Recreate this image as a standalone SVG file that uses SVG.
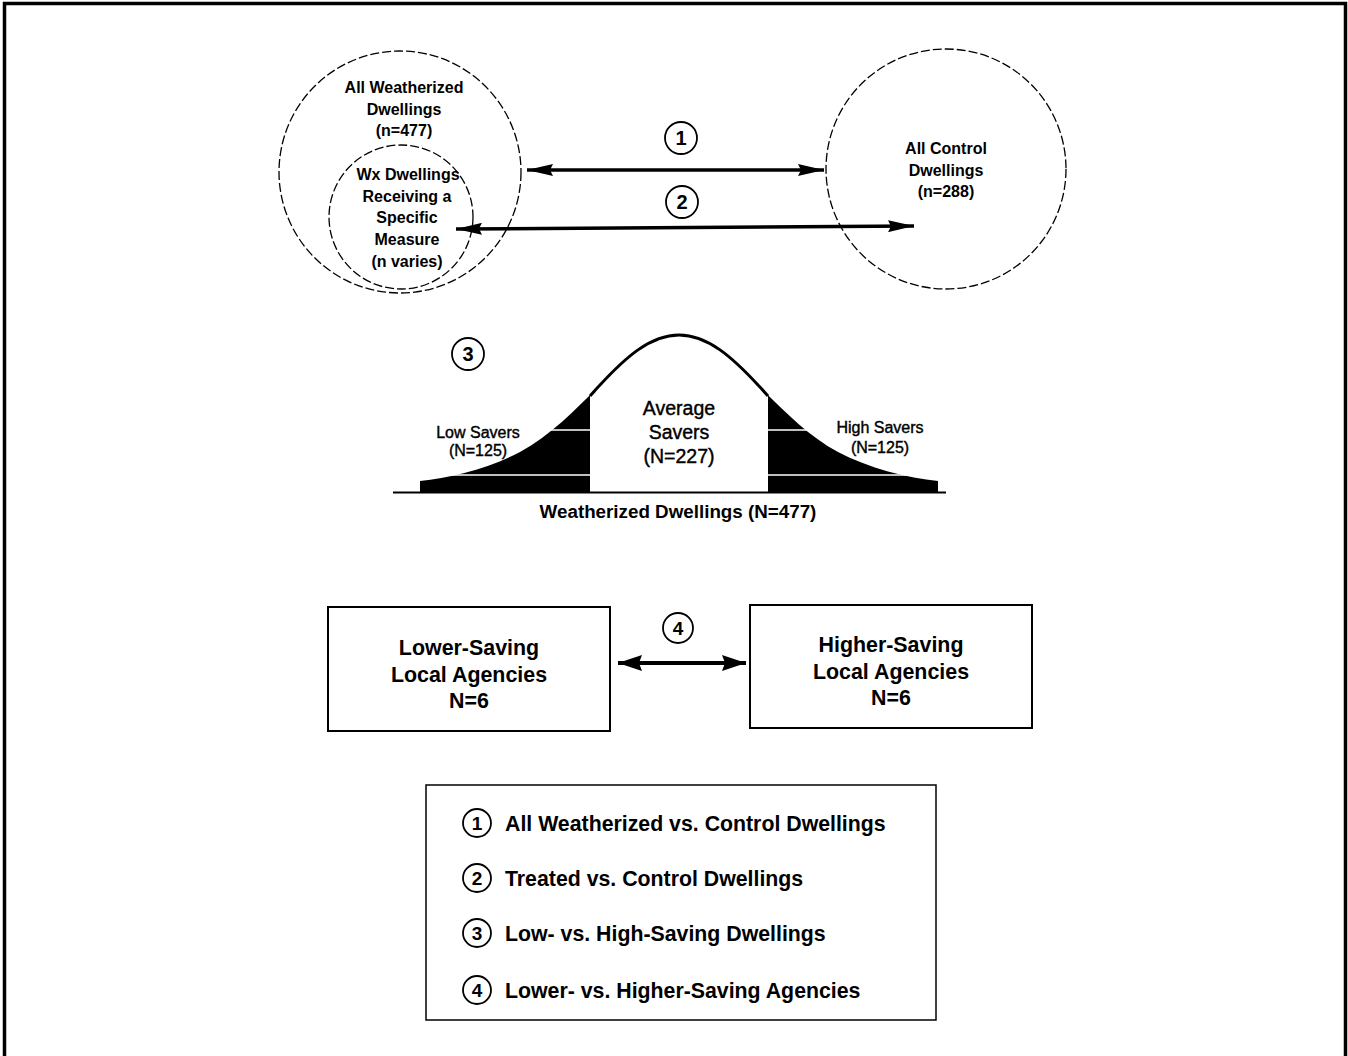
<svg xmlns="http://www.w3.org/2000/svg" width="1348" height="1056" viewBox="0 0 1348 1056">
<style>
.t{font-family:"Liberation Sans",Arial,sans-serif;fill:#000;text-anchor:middle}
.b{font-weight:bold}
.s{stroke:#000;stroke-width:0.4}
.l{text-anchor:start}
.dash{fill:none;stroke:#000;stroke-width:1.3;stroke-dasharray:9 3}
.num{fill:none;stroke:#000;stroke-width:1.8}
.ln{stroke:#000;fill:none}
.box{fill:#fff;stroke:#000;stroke-width:2}
</style>
<defs>
<marker id="ah" viewBox="0 0 26 12" refX="26" refY="6" markerWidth="26" markerHeight="12" markerUnits="userSpaceOnUse" orient="auto-start-reverse">
<path d="M0,0 L26,6 L0,12 L3,6 Z" fill="#000"/>
</marker>
<marker id="ah4" viewBox="0 0 24 16" refX="24" refY="8" markerWidth="24" markerHeight="16" markerUnits="userSpaceOnUse" orient="auto-start-reverse">
<path d="M0,0 L24,8 L0,16 L3,8 Z" fill="#000"/>
</marker>
</defs>
<rect width="1348" height="1056" fill="#fff"/>
<path d="M4.5,1056 V3.5 H1345.5 V1056" fill="none" stroke="#000" stroke-width="3.5"/>

<g id="weatherized">
<circle class="dash" cx="400" cy="172" r="121"/>
<text class="t b" font-size="16" x="404" y="93">All  Weatherized</text>
<text class="t b" font-size="16" x="404" y="115">Dwellings</text>
<text class="t b" font-size="16" x="404" y="136">(n=477)</text>
</g>
<g id="wx-specific">
<circle class="dash" cx="401" cy="217" r="72"/>
<text class="t b" font-size="16" x="408" y="180">Wx Dwellings</text>
<text class="t b" font-size="16" x="407" y="202">Receiving a</text>
<text class="t b" font-size="16" x="407" y="223">Specific</text>
<text class="t b" font-size="16" x="407" y="245">Measure</text>
<text class="t b" font-size="16" x="407" y="267">(n varies)</text>
</g>
<g id="control">
<circle class="dash" cx="946" cy="169" r="120"/>
<text class="t b" font-size="16" x="946" y="154">All  Control</text>
<text class="t b" font-size="16" x="946" y="176">Dwellings</text>
<text class="t b" font-size="16" x="946" y="197">(n=288)</text>
</g>

<g id="distribution">
<path d="M420,493 L420,481 C450,478 490,468 520,452 C550,436 575,410 600,385 C625,358 650,335 679,335 C708,335 733,358 758,385 C783,410 808,436 838,452 C868,468 908,478 938,481 L938,493 Z" fill="#000"/>
<rect x="590" y="330" width="178" height="162" fill="#fff"/>
<path d="M590,396 C593,393 596,389 600,385 C625,358 650,335 679,335 C708,335 733,358 758,385 C762,389 765,393 768,396" class="ln" stroke-width="3"/>
<line x1="420" y1="430" x2="590" y2="430" stroke="#fff" stroke-width="1.5"/>
<line x1="768" y1="430" x2="938" y2="430" stroke="#fff" stroke-width="1.5"/>
<line x1="420" y1="475" x2="590" y2="475" stroke="#fff" stroke-width="1.5"/>
<line x1="768" y1="475" x2="938" y2="475" stroke="#fff" stroke-width="1.5"/>
<line x1="393" y1="492.5" x2="946" y2="492.5" stroke="#000" stroke-width="2"/>
<text class="t s" font-size="16" x="478" y="438">Low Savers</text>
<text class="t s" font-size="16" x="478" y="456">(N=125)</text>
<text class="t s" font-size="19.5" x="679" y="415">Average</text>
<text class="t s" font-size="19.5" x="679" y="439">Savers</text>
<text class="t s" font-size="19.5" x="679" y="463">(N=227)</text>
<text class="t s" font-size="16" x="880" y="433">High Savers</text>
<text class="t s" font-size="16" x="880" y="453">(N=125)</text>
<text class="t b" font-size="18.8" x="678" y="518">Weatherized Dwellings (N=477)</text>
</g>

<g id="lower-agencies">
<rect class="box" x="328" y="607" width="282" height="124"/>
<text class="t b" font-size="21.4" x="469" y="655">Lower-Saving</text>
<text class="t b" font-size="21.4" x="469" y="682">Local Agencies</text>
<text class="t b" font-size="21.4" x="469" y="708">N=6</text>
</g>
<g id="higher-agencies">
<rect class="box" x="750" y="605" width="282" height="123"/>
<text class="t b" font-size="21.4" x="891" y="652">Higher-Saving</text>
<text class="t b" font-size="21.4" x="891" y="679">Local Agencies</text>
<text class="t b" font-size="21.4" x="891" y="705">N=6</text>
</g>

<g id="connectors">
<line x1="527" y1="170" x2="824" y2="170" class="ln" stroke-width="3.5" marker-start="url(#ah)" marker-end="url(#ah)"/>
<line x1="456" y1="229" x2="914" y2="226" class="ln" stroke-width="3.5" marker-start="url(#ah)" marker-end="url(#ah)"/>
<line x1="618" y1="663" x2="746" y2="663" class="ln" stroke-width="4" marker-start="url(#ah4)" marker-end="url(#ah4)"/>
</g>

<g id="labels">
<circle class="num" cx="681" cy="138" r="16"/>
<text class="t b" font-size="20" x="681" y="145">1</text>
<circle class="num" cx="682" cy="202" r="16"/>
<text class="t b" font-size="20" x="682" y="209">2</text>
<circle class="num" cx="468" cy="354" r="16"/>
<text class="t b" font-size="20" x="468" y="361">3</text>
<circle class="num" cx="678" cy="628" r="15"/>
<text class="t b" font-size="19" x="678" y="635">4</text>
</g>

<g id="legend">
<rect x="426" y="785" width="510" height="235" fill="#fff" stroke="#000" stroke-width="1.5"/>
<circle class="num" cx="477" cy="823" r="14"/>
<text class="t b" font-size="19" x="477" y="830">1</text>
<text class="t b l" font-size="21.3" x="505" y="831">All Weatherized vs. Control Dwellings</text>
<circle class="num" cx="477" cy="878" r="14"/>
<text class="t b" font-size="19" x="477" y="885">2</text>
<text class="t b l" font-size="21.3" x="505" y="886">Treated vs. Control Dwellings</text>
<circle class="num" cx="477" cy="933" r="14"/>
<text class="t b" font-size="19" x="477" y="940">3</text>
<text class="t b l" font-size="21.3" x="505" y="941">Low- vs. High-Saving Dwellings</text>
<circle class="num" cx="477" cy="990" r="14"/>
<text class="t b" font-size="19" x="477" y="997">4</text>
<text class="t b l" font-size="21.3" x="505" y="998">Lower- vs. Higher-Saving Agencies</text>
</g>
</svg>
